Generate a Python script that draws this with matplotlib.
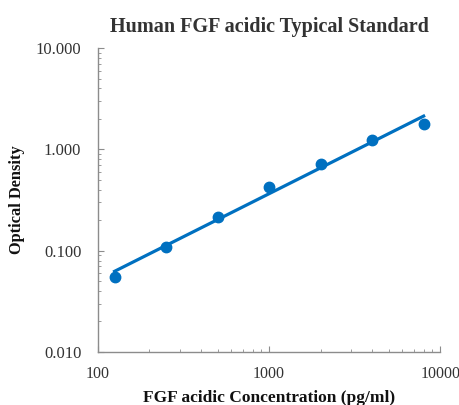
import matplotlib
matplotlib.use('Agg')
import matplotlib.pyplot as plt
import numpy as np
from matplotlib.ticker import FuncFormatter, LogLocator, NullFormatter

# datos
conc = [125, 250, 500, 1000, 2000, 4000, 8000]
od = [0.055, 0.109, 0.216, 0.428, 0.716, 1.24, 1.77]

titulo = "Human FGF acidic Typical Standard"
etiqueta_x = "FGF acidic Concentration (pg/ml)"
etiqueta_y = "Optical Density"

azul = '#0070C0'
gris = '#8c8c8c'

plt.rcParams['font.family'] = ['Liberation Serif', 'DejaVu Serif']

fig = plt.figure(figsize=(4.6, 4.05), dpi=100)
ax = fig.add_axes([0.213, 0.131, 0.744, 0.75])

# ajuste potencial (lineal en log-log)
m, b = np.polyfit(np.log10(conc), np.log10(od), 1)
xs = np.array([conc[0], conc[-1]])
ax.plot(xs, 10 ** (m * np.log10(xs) + b), color=azul, lw=2.3, zorder=2)
ax.plot(conc, od, 'o', color=azul, ms=7.5, zorder=3)

ax.set_xscale('log')
ax.set_yscale('log')
ax.set_xlim(100, 10000)
ax.set_ylim(0.01, 10)

ax.yaxis.set_major_formatter(FuncFormatter(lambda v, p: f"{v:.3f}"))
ax.xaxis.set_major_formatter(FuncFormatter(lambda v, p: f"{v:.0f}"))
ax.xaxis.set_minor_locator(LogLocator(base=10, subs=np.arange(2, 10)))
ax.yaxis.set_minor_locator(LogLocator(base=10, subs=np.arange(2, 10)))
ax.xaxis.set_minor_formatter(NullFormatter())
ax.yaxis.set_minor_formatter(NullFormatter())

ax.tick_params(which='both', direction='in', color=gris, labelcolor='#333333')
ax.tick_params(which='major', length=4)
ax.tick_params(which='minor', length=2.5)
ax.tick_params(axis='x', pad=10, labelsize=11.5)
ax.tick_params(axis='y', pad=12, labelsize=12)

for lado in ['top', 'right']:
    ax.spines[lado].set_visible(False)
for lado in ['left', 'bottom']:
    ax.spines[lado].set_color(gris)
    ax.spines[lado].set_linewidth(1.0)

ax.set_title(titulo, fontsize=14.5, fontweight='bold', color='#333333', pad=12)
ax.set_xlabel(etiqueta_x, fontsize=12.5, fontweight='bold', color='#111111', labelpad=6)
ax.set_ylabel(etiqueta_y, fontsize=11.8, fontweight='bold', color='#111111', labelpad=8)

fig.savefig('out.png', dpi=100)
